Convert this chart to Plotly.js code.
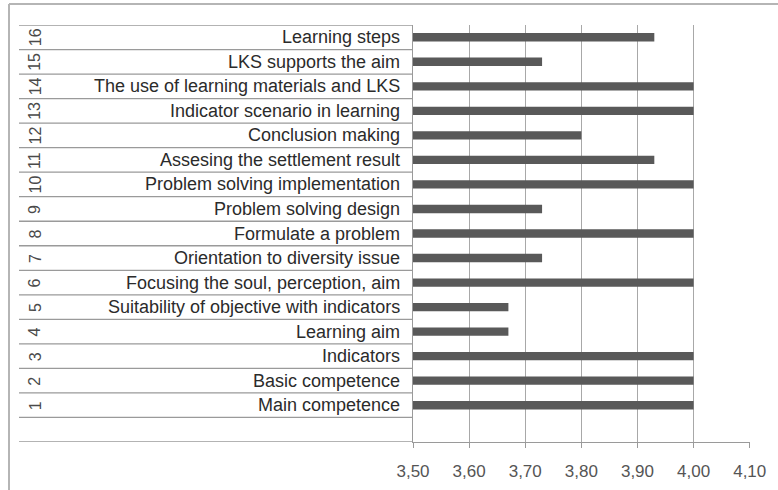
<!DOCTYPE html>
<html>
<head>
<meta charset="utf-8">
<script src="https://cdn.plot.ly/plotly-3.0.1.min.js"></script>
<style>html,body{margin:0;padding:0;background:#fff;}#chart{width:778px;height:490px;}</style>
</head>
<body>
<div id="chart"></div>
<script>
// Data
var numbers = [1, 2, 3, 4, 5, 6, 7, 8, 9, 10, 11, 12, 13, 14, 15, 16];
var categories = [
  "Main competence",
  "Basic competence",
  "Indicators",
  "Learning aim",
  "Suitability of objective with indicators",
  "Focusing the soul, perception, aim",
  "Orientation to diversity issue",
  "Formulate a problem",
  "Problem solving design",
  "Problem solving implementation",
  "Assesing the settlement result",
  "Conclusion making",
  "Indicator scenario in learning",
  "The use of learning materials and LKS",
  "LKS supports the aim",
  "Learning steps"
];
var values = [4.00, 4.00, 4.00, 3.67, 3.67, 4.00, 3.73, 4.00, 3.73, 4.00, 3.93, 3.80, 4.00, 4.00, 3.73, 3.93];
var xTicks = [3.50, 3.60, 3.70, 3.80, 3.90, 4.00, 4.10];

// Layout geometry (pixels)
var W = 778, H = 490;
var mL = 413, mR = 28, mT = 25, mB = 48;
var pw = W - mL - mR, ph = H - mT - mB;
function px2x(p) { return (p - mL) / pw; }
function py2y(p) { return 1 - (p - mT) / ph; }

var trace = {
  type: 'bar',
  orientation: 'h',
  y: numbers,
  x: values,
  marker: {color: '#595959', line: {width: 0}},
  hoverinfo: 'none'
};

var annotations = [];
var shapes = [];
for (var i = 0; i < categories.length; i++) {
  annotations.push({
    xref: 'paper', yref: 'y', x: px2x(402), y: numbers[i],
    xanchor: 'right', yanchor: 'middle', showarrow: false,
    text: categories[i],
    font: {family: 'Liberation Sans, Arial, sans-serif', size: 18, color: '#2b2b2b'}
  });
  annotations.push({
    xref: 'paper', yref: 'y', x: px2x(35), y: numbers[i],
    xanchor: 'center', yanchor: 'middle', showarrow: false,
    textangle: -90,
    text: String(numbers[i]),
    font: {family: 'Liberation Sans, Arial, sans-serif', size: 16, color: '#4a4a4a'}
  });
}
// row separator lines in label table
for (var k = -1; k <= 16; k++) {
  shapes.push({
    type: 'line', xref: 'paper', yref: 'y',
    x0: px2x(19), x1: 0, y0: k + 0.5, y1: k + 0.5,
    line: {color: '#9a9a9a', width: 1.3}
  });
}
// outer frame
shapes.push({type: 'line', xref: 'paper', yref: 'paper', x0: px2x(9), x1: px2x(800), y0: py2y(4), y1: py2y(4), line: {color: '#b5b5b5', width: 2}});
shapes.push({type: 'line', xref: 'paper', yref: 'paper', x0: px2x(9), x1: px2x(9), y0: py2y(4), y1: py2y(520), line: {color: '#b5b5b5', width: 2}});

var layout = {
  width: W, height: H,
  margin: {l: mL, r: mR, t: mT, b: mB, pad: 0},
  paper_bgcolor: '#ffffff',
  plot_bgcolor: '#ffffff',
  separators: ', ',
  showlegend: false,
  bargap: 0.66,
  xaxis: {
    range: [3.5, 4.1005],
    tickvals: xTicks,
    tickformat: '.2f',
    showgrid: true,
    gridcolor: '#a8a8a8',
    gridwidth: 1.2,
    zeroline: false,
    showline: true,
    linecolor: '#9a9a9a',
    linewidth: 1.3,
    ticks: 'outside',
    ticklen: 5,
    tickcolor: '#9a9a9a',
    ticklabelstandoff: 8,
    tickfont: {family: 'Liberation Sans, Arial, sans-serif', size: 17, color: '#555555'},
    fixedrange: true
  },
  yaxis: {
    range: [-0.5, 16.5],
    showticklabels: false,
    showgrid: false,
    zeroline: false,
    showline: true,
    linecolor: '#9a9a9a',
    linewidth: 1.3,
    ticks: '',
    fixedrange: true
  },
  annotations: annotations,
  shapes: shapes
};

Plotly.newPlot('chart', [trace], layout, {displayModeBar: false, staticPlot: true});
</script>
</body>
</html>
